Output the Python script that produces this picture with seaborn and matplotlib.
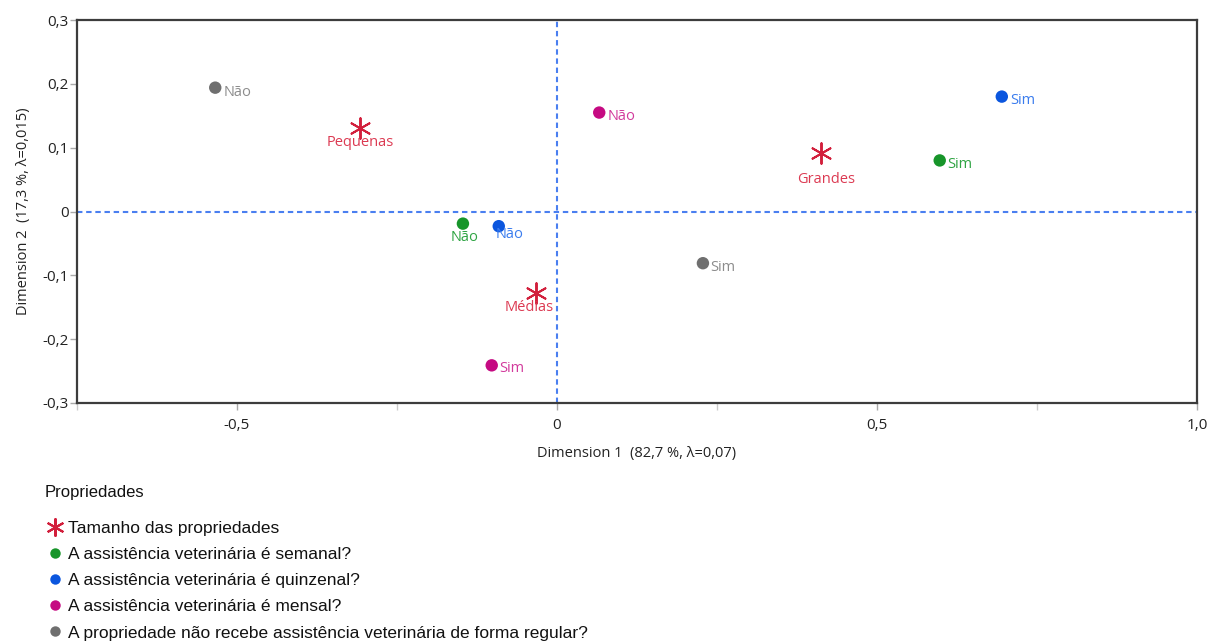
import matplotlib
matplotlib.use("Agg")
import matplotlib.pyplot as plt
import seaborn as sns
import pandas as pd
from matplotlib.lines import Line2D
from matplotlib.ticker import FuncFormatter, MultipleLocator

# Correspondence analysis coordinates
labels = ["Pequenas", "Médias", "Grandes",
          "Sim", "Não",
          "Sim", "Não",
          "Sim", "Não",
          "Sim", "Não"]
dim1 = [-0.308, -0.033, 0.413,
        0.598, -0.147,
        0.695, -0.091,
        -0.102, 0.066,
        0.228, -0.534]
dim2 = [0.131, -0.127, 0.092,
        0.080, -0.019,
        0.180, -0.023,
        -0.241, 0.155,
        -0.081, 0.194]
variables = ["Tamanho das propriedades"] * 3 + \
    ["A assistência veterinária é semanal?"] * 2 + \
    ["A assistência veterinária é quinzenal?"] * 2 + \
    ["A assistência veterinária é mensal?"] * 2 + \
    ["A propriedade não recebe assistência veterinária de forma regular?"] * 2

legend_order = ["Tamanho das propriedades",
                "A assistência veterinária é semanal?",
                "A assistência veterinária é quinzenal?",
                "A assistência veterinária é mensal?",
                "A propriedade não recebe assistência veterinária de forma regular?"]
x_ticks = [-0.5, 0.0, 0.5, 1.0]
y_ticks = [-0.3, -0.2, -0.1, 0.0, 0.1, 0.2, 0.3]

df = pd.DataFrame({"label": labels, "dim1": dim1, "dim2": dim2, "variable": variables})

marker_colors = dict(zip(legend_order, ["#d21f3c", "#17952a", "#0b56de", "#c50a82", "#6f6f6f"]))
text_colors = dict(zip(legend_order, ["#dc3a52", "#2fa443", "#3a7cee", "#d23a9c", "#8c8c8c"]))

# label placement: offset in pixels (dx, dy downward) and horizontal alignment
placement = [(0, 15, "center"), (-7, 15, "center"), (5, 27, "center"),
             (8, 4, "left"), (2, 14, "center"),
             (8, 4, "left"), (-3, 8, "left"),
             (8, 3, "left"), (8, 4, "left"),
             (7, 4, "left"), (8, 5, "left")]

sns.set_theme(style="white")
plt.rcParams["font.family"] = ["Open Sans", "DejaVu Sans"]

fig = plt.figure(figsize=(12.09, 6.42), dpi=100)
ax = fig.add_axes([77 / 1209, 1 - 403 / 642, 1120 / 1209, 383 / 642])

dash = (0, (2.6, 1.8))
ax.axhline(0, color="#4a7ff0", lw=1.5, ls=dash, zorder=1)
ax.axvline(0, color="#4a7ff0", lw=1.5, ls=dash, zorder=1)

size_df = df[df["variable"] == legend_order[0]]
dot_df = df[df["variable"] != legend_order[0]]

sns.scatterplot(data=dot_df, x="dim1", y="dim2", hue="variable",
                palette={k: marker_colors[k] for k in legend_order[1:]},
                s=80, linewidth=0, legend=False, ax=ax, zorder=3)
sns.scatterplot(data=size_df, x="dim1", y="dim2", color=marker_colors[legend_order[0]],
                marker=(6, 2, 0), s=220, linewidth=1.4, legend=False, ax=ax, zorder=3)

for (lab, x, y, var), (dx, dy, ha) in zip(zip(labels, dim1, dim2, variables), placement):
    ax.annotate(lab, (x, y), xytext=(dx, -dy), textcoords="offset pixels",
                ha=ha, va="center", fontsize=10.5, color=text_colors[var], zorder=4)

ax.set_xlim(-0.75, 1.0)
ax.set_ylim(-0.3, 0.3)
ax.set_xticks(x_ticks)
ax.set_yticks(y_ticks)
ax.xaxis.set_minor_locator(MultipleLocator(0.25))

def comma(v, pos=None):
    if abs(v) < 1e-9:
        return "0"
    return f"{v:.1f}".replace(".", ",")

ax.xaxis.set_major_formatter(FuncFormatter(comma))
ax.yaxis.set_major_formatter(FuncFormatter(comma))
ax.tick_params(axis="both", which="major", length=5, width=1, color="#aaaaaa",
               labelsize=11, labelcolor="#222222", bottom=True, left=True)
ax.tick_params(axis="x", which="minor", length=5, width=1, color="#cccccc", bottom=True)
ax.tick_params(axis="x", pad=6)
ax.tick_params(axis="y", pad=1)
for sp in ax.spines.values():
    sp.set_color("#3c3c3c")
    sp.set_linewidth(1.6)

ax.set_xlabel("Dimension 1  (82,7 %, λ=0,07)", fontsize=10.5, color="#222222", labelpad=9)
ax.set_ylabel("Dimension 2  (17,3 %, λ=0,015)", fontsize=10.5, color="#222222", labelpad=8)

handles = [Line2D([], [], ls="", marker=(6, 2, 0), markersize=13, markeredgewidth=1.5,
                  color=marker_colors[legend_order[0]])]
handles += [Line2D([], [], ls="", marker="o", markersize=7.5, markeredgewidth=0,
                   color=marker_colors[k]) for k in legend_order[1:]]
leg = fig.legend(handles, legend_order, loc="upper left",
                 bbox_to_anchor=(46 / 1209, 1 - 521 / 642), frameon=False,
                 borderpad=0, borderaxespad=0, handlelength=1.0, handletextpad=0.26,
                 labelspacing=0.63, prop={"family": "Liberation Sans", "size": 12.5})
for t in leg.get_texts():
    t.set_color("#111111")
fig.text(45 / 1209, 1 - 493 / 642, "Propriedades", ha="left", va="center",
         family="Liberation Sans", fontsize=12, color="#111111")

fig.savefig("out.png", dpi=100)
